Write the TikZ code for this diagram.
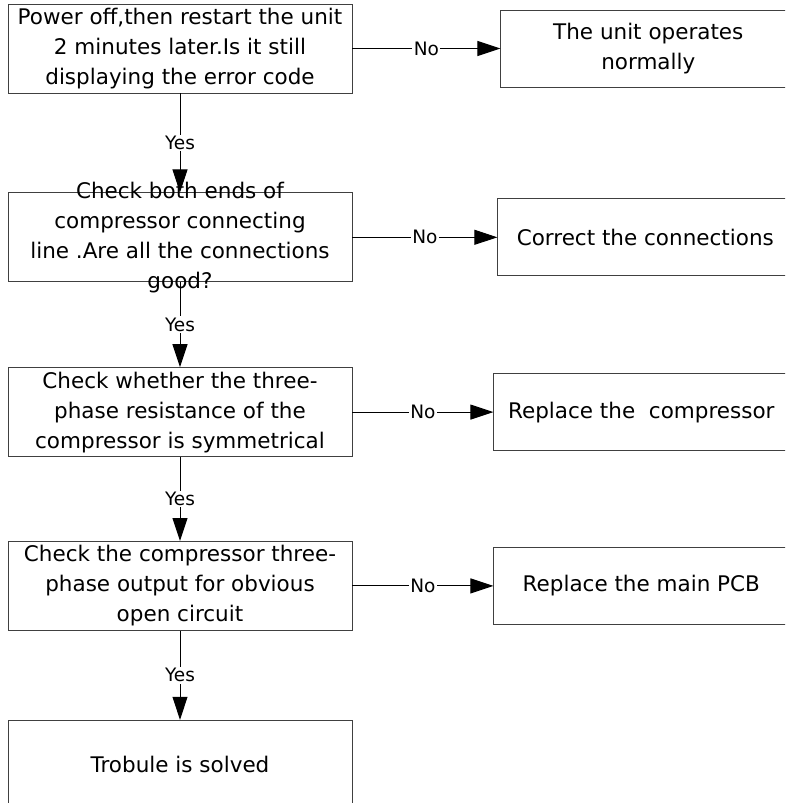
\documentclass[tikz,border=0pt]{standalone}
\usepackage{fontspec}
\setmainfont{DejaVu Sans}
\usetikzlibrary{arrows.meta,positioning}

\begin{document}
\begin{tikzpicture}[->,>={Triangle[length=23pt,width=15pt]},line width=1pt]
	  \tikzstyle{check}=[draw=black!75,line width=0.8pt,minimum width=344pt,minimum height=89pt,
	                     inner sep=0pt,align=center,font=\fontsize{21.5}{30}\selectfont]
	  \tikzstyle{action}=[check,minimum width=295pt,minimum height=77pt]
	  \tikzstyle{answer}=[fill=white,inner sep=1.5pt,font=\fontsize{18.5}{20}\selectfont]

	  \clip (0,0) rectangle (785pt,-803pt);

	  % checks down the left side
	  \node[check] (q1) at (180pt,-48.5pt) {Power off,then restart the unit\\2 minutes later.Is it still\\displaying the error code};
	  \node[check] (q2) [below=99pt of q1,
	       label={[align=center,font=\fontsize{21.5}{30}\selectfont]center:{Check both ends of\\compressor connecting\\line .Are all the connections\\good?}}] {};
	  \node[check] (q3) [below=85pt of q2] {Check whether the three-\\phase resistance of the\\compressor is symmetrical};
	  \node[check] (q4) [below=84pt of q3] {Check the compressor three-\\phase output for obvious\\open circuit};
	  \node[check] (q5) [below=89pt of q4] {Trobule is solved};

	  % actions on the right
	  \node[action] (r1) [right=148pt of q1] {The unit operates\\normally};
	  \node[action] (r2) [right=145pt of q2] {Correct the connections};
	  \node[action] (r3) [right=141pt of q3] {Replace the\ \ compressor};
	  \node[action] (r4) [right=141pt of q4] {Replace the main PCB};

	  \path (q1) edge node[answer] {Yes} (q2)
	  (q2) edge node[answer] {Yes} (q3)
	  (q3) edge node[answer] {Yes} (q4)
	  (q4) edge node[answer] {Yes} (q5)
	  (q1.east) edge node[answer] {No} (r1.west |- q1.east)
	  (q2.east) edge node[answer] {No} (r2.west |- q2.east)
	  (q3.east) edge node[answer] {No} (r3.west |- q3.east)
	  (q4.east) edge node[answer] {No} (r4.west |- q4.east);
\end{tikzpicture}
\end{document}
